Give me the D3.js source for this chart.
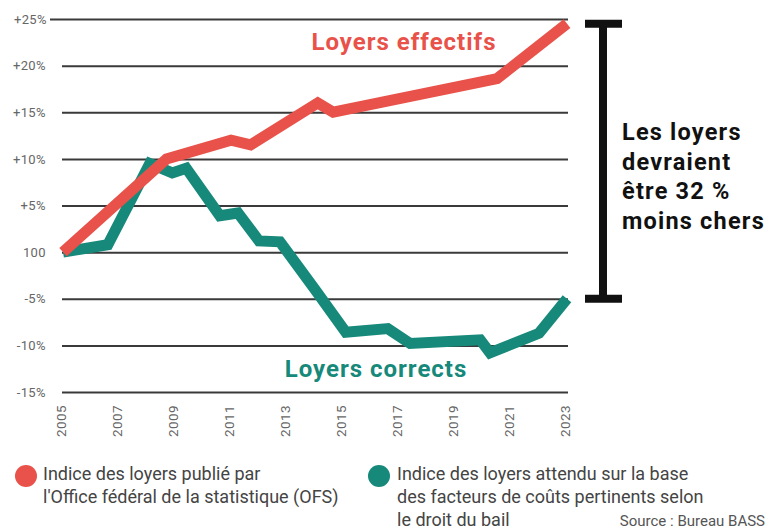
<!DOCTYPE html>
<html lang="fr">
<head>
<meta charset="UTF-8">
<title>Loyers effectifs et loyers corrects</title>
<script src="https://cdn.jsdelivr.net/npm/d3@7"></script>
<style>
    body{margin:0;background:#fff}
    svg text{font-family:Roboto, "Liberation Sans", sans-serif}
    .grid line{stroke:#3a3a3a;stroke-width:2}
    .grid .domain{display:none}
    .grid text{fill:#666;font-size:13px;letter-spacing:0.4px}
    .xaxis .domain{display:none}
    .xaxis text{fill:#666;font-size:13.5px;letter-spacing:0.4px}
    .serie{fill:none;stroke-width:11;stroke-linejoin:miter;stroke-miterlimit:3}
    .legend text{fill:#444;font-size:18px}
</style>
</head>
<body>
<svg></svg>
<script>
    // indice publié OFS (écart en % par rapport à 2005 = 100)
    var redYears  = [2005, 2008.7, 2011, 2011.7, 2014.1, 2014.65, 2020.5, 2023]
    var redValues = [0, 10, 12, 11.5, 16, 15, 18.6, 24.5]

    // indice attendu selon les facteurs de coûts
    var greenYears  = [2005, 2006.6, 2008.1, 2008.9, 2009.4, 2010.6, 2011.25, 2012, 2012.75, 2014, 2015.1, 2016.6, 2017.4, 2019.9, 2020.25, 2022, 2023]
    var greenValues = [0, 0.8, 9.5, 8.5, 9, 3.9, 4.2, 1.2, 1.1, -4, -8.6, -8.2, -9.8, -9.4, -10.8, -8.7, -5]

    var yTicks = [-15, -10, -5, 0, 5, 10, 15, 20, 25]
    var yLabels = ['-15%', '-10%', '-5%', '100', '+5%', '+10%', '+15%', '+20%', '+25%']
    var xTicks = [2005, 2007, 2009, 2011, 2013, 2015, 2017, 2019, 2021, 2023]

    var red = '#e8524a'
    var green = '#17897a'

    var width = 770, height = 529
    var svg = d3.select('svg').attr('width', width).attr('height', height)

    var x = d3.scaleLinear().domain([2005, 2023]).range([63, 567])
    var y = d3.scaleLinear().domain([-15, 25]).range([392, 19])

    // gridlines + labels
    var grid = svg.append('g')
        .attr('class', 'grid')
        .attr('transform', 'translate(568,0)')
        .call(d3.axisLeft(y)
            .tickValues(yTicks)
            .tickFormat((d, i) => yLabels[i])
            .tickSize(506))
    grid.selectAll('.tick line')
        .attr('x2', d => d === 25 ? -518 : -506)
    grid.selectAll('.tick text').attr('x', d => d === 25 ? -521 : -522)

    // x axis, rotated years
    var xa = svg.append('g')
        .attr('class', 'xaxis')
        .attr('transform', 'translate(-2,404)')
        .call(d3.axisBottom(x).tickValues(xTicks).tickFormat(d3.format('d')).tickSize(0))
    xa.selectAll('text')
        .attr('transform', 'rotate(-90)')
        .attr('text-anchor', 'end')
        .attr('x', -1)
        .attr('y', 0)
        .attr('dy', '0.35em')

    // lines
    var line = d3.line()
        .x(d => x(d[0]))
        .y(d => y(d[1]))

    svg.append('path')
        .datum(d3.zip(greenYears, greenValues))
        .attr('class', 'serie')
        .attr('stroke', green)
        .attr('d', line)

    svg.append('path')
        .datum(d3.zip(redYears, redValues))
        .attr('class', 'serie')
        .attr('stroke', red)
        .attr('d', line)

    svg.append('text')
        .attr('x', 404).attr('y', 50)
        .attr('text-anchor', 'middle')
        .attr('fill', red)
        .style('font-size', '24px').style('font-weight', 700).style('letter-spacing', '1px')
        .text('Loyers effectifs')

    svg.append('text')
        .attr('x', 376).attr('y', 377)
        .attr('text-anchor', 'middle')
        .attr('fill', green)
        .style('font-size', '24px').style('font-weight', 700).style('letter-spacing', '1px')
        .text('Loyers corrects')

    // bracket between the two end values
    var yTop = y(redValues[redValues.length - 1])
    var yBot = y(greenValues[greenValues.length - 1])
    var bx = 603
    var br = svg.append('g').attr('stroke', '#111').attr('stroke-width', 8)
    br.append('line').attr('x1', bx).attr('x2', bx).attr('y1', yTop).attr('y2', yBot)
    br.append('line').attr('x1', bx - 18).attr('x2', bx + 19).attr('y1', yTop).attr('y2', yTop)
    br.append('line').attr('x1', bx - 18).attr('x2', bx + 19).attr('y1', yBot).attr('y2', yBot)

    var note = ['Les loyers', 'devraient', 'être 32 %', 'moins chers']
    svg.append('text')
        .attr('fill', '#111')
        .style('font-size', '23.5px').style('font-weight', 700).style('letter-spacing', '1.2px')
        .selectAll('tspan')
        .data(note)
        .join('tspan')
        .attr('x', 622)
        .attr('y', (d, i) => 140 + i * 29.5)
        .text(d => d)

    // legend
    var legend = svg.append('g').attr('class', 'legend')
    var items = [
        {color: red, cx: 26, tx: 43, lines: ['Indice des loyers publié par', "l'Office fédéral de la statistique (OFS)"]},
        {color: green, cx: 379, tx: 397, lines: ['Indice des loyers attendu sur la base', 'des facteurs de coûts pertinents selon', 'le droit du bail']}
    ]
    items.forEach(it => {
        legend.append('circle').attr('cx', it.cx).attr('cy', 476).attr('r', 11).attr('fill', it.color)
        legend.append('text')
            .selectAll('tspan')
            .data(it.lines)
            .join('tspan')
            .attr('x', it.tx)
            .attr('y', (d, i) => 480 + i * 23)
            .text(d => d)
    })

    svg.append('text')
        .attr('x', 765).attr('y', 526)
        .attr('text-anchor', 'end')
        .attr('fill', '#555')
        .style('font-size', '15px')
        .text('Source : Bureau BASS')
</script>
</body>
</html>
